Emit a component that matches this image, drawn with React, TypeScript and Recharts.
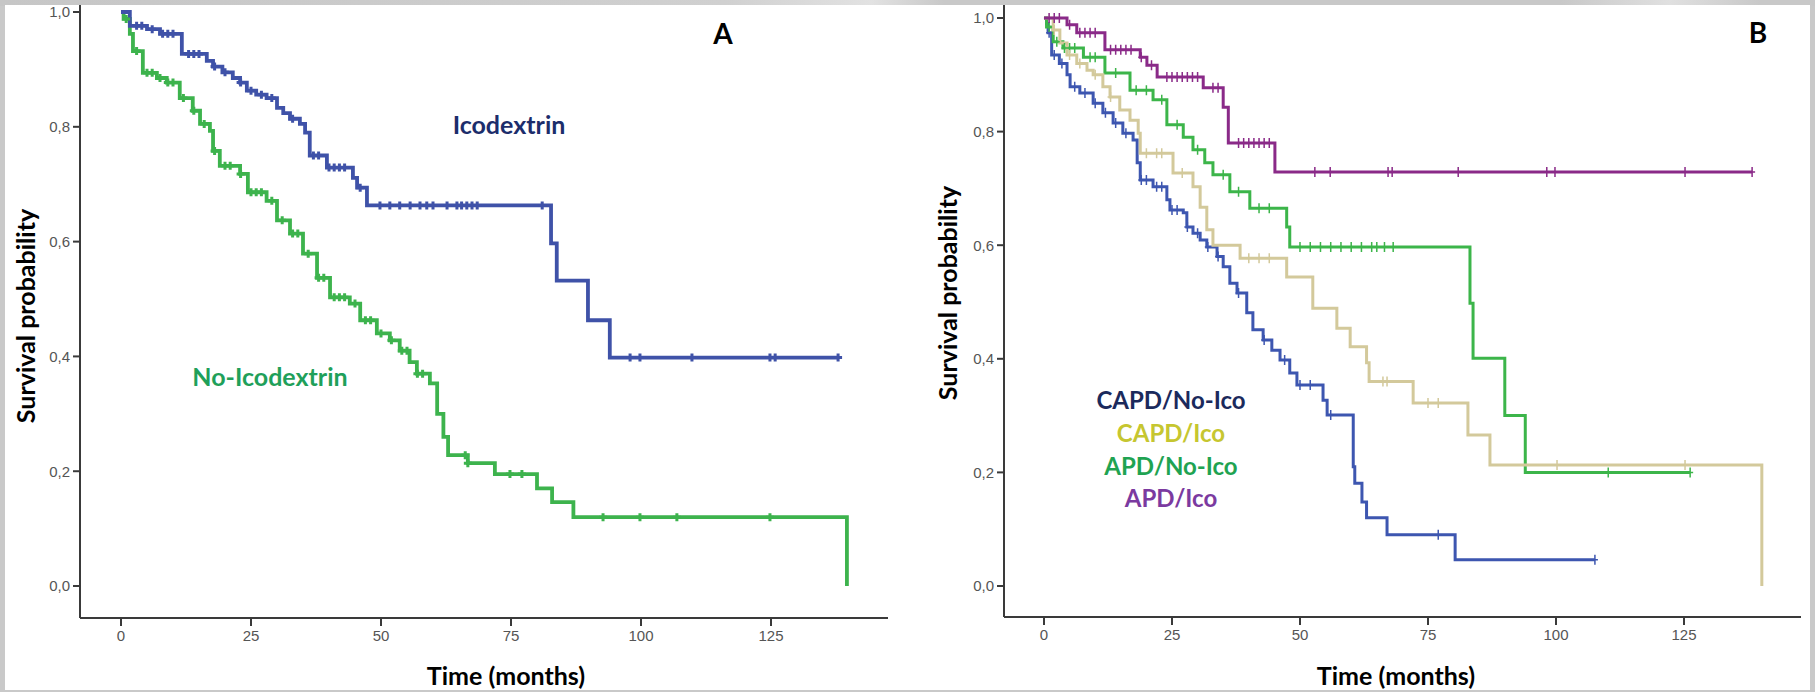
import React from 'react';
import { ComposedChart, Line, XAxis, YAxis } from 'recharts';

// ---------- Panel A ----------
const A_ICO_TIMES = [1.7, 5, 7.5, 11.7, 16.5, 17.7, 19.5, 21.5, 22.9, 24.2, 26, 28, 30, 31.2, 32.5, 34.4, 35.4, 36.3, 39.6, 44.6, 45.4, 47.3, 82.7, 83.8, 89.8, 94];
const A_ICO_SURV = [0.976, 0.97, 0.962, 0.927, 0.915, 0.905, 0.895, 0.885, 0.877, 0.863, 0.856, 0.85, 0.833, 0.824, 0.814, 0.805, 0.79, 0.75, 0.729, 0.711, 0.694, 0.663, 0.597, 0.532, 0.463, 0.398];
const A_ICO_CENS = [3, 4, 6, 8, 9, 10, 13, 14, 15, 18, 20, 23, 25, 27, 29, 33, 37, 38, 40, 41, 42, 43, 46, 49.8, 51.7, 53.6, 55.6, 57.5, 58.8, 60, 62.7, 64.6, 65.5, 66.5, 67.5, 68.5, 81, 97.9, 99.8, 109.8, 124.8, 125.8, 137.9];

const A_NOICO_TIMES = [0.5, 1.7, 2.3, 4.2, 6.9, 8.8, 11.3, 13.8, 15.2, 17.1, 17.7, 19, 22.9, 24.4, 28, 30, 32.5, 35, 37.7, 40.2, 44, 46, 49.2, 51.7, 53.6, 55.5, 56.9, 59.4, 60.8, 62, 62.9, 66.7, 71.9, 80, 82.9, 87, 139.6];
const A_NOICO_SURV = [0.988, 0.962, 0.932, 0.894, 0.885, 0.877, 0.85, 0.828, 0.805, 0.793, 0.758, 0.732, 0.718, 0.686, 0.671, 0.637, 0.614, 0.579, 0.537, 0.503, 0.492, 0.463, 0.44, 0.428, 0.41, 0.39, 0.37, 0.353, 0.3, 0.26, 0.228, 0.214, 0.195, 0.17, 0.146, 0.12, 0];
const A_NOICO_CENS = [1, 3, 5, 6, 7.5, 9, 10, 12, 14, 16, 18, 20, 21, 23, 25, 26, 27, 29, 31, 33, 34, 36, 38, 39, 41, 42, 43, 45, 47, 48, 50, 52, 54, 55, 57, 58, 66.2, 66.7, 74.8, 77.1, 92.7, 99.8, 106.9, 124.8];

// ---------- Panel B ----------
const B_CAPD_NOICO_TIMES = [0.5, 0.8, 1.5, 3, 4.5, 5.1, 7, 9.6, 11.5, 13.5, 15.4, 17.4, 18.2, 18.8, 21.3, 24, 24.6, 27.2, 27.9, 29.1, 30.5, 31.8, 33.8, 35, 36.3, 37.7, 39.6, 40.8, 42.8, 44.5, 46.1, 48, 49.4, 54.5, 55.3, 60.4, 60.7, 62.1, 63, 67, 80.3];
const B_CAPD_NOICO_SURV = [0.99, 0.974, 0.935, 0.92, 0.9, 0.879, 0.868, 0.85, 0.833, 0.815, 0.797, 0.785, 0.745, 0.715, 0.703, 0.68, 0.662, 0.657, 0.632, 0.621, 0.609, 0.597, 0.58, 0.562, 0.533, 0.516, 0.481, 0.451, 0.433, 0.415, 0.398, 0.375, 0.354, 0.327, 0.301, 0.21, 0.181, 0.148, 0.12, 0.09, 0.046];
const B_CAPD_NOICO_CENS = [1, 2, 3.5, 6, 8, 10, 12, 14, 16, 19, 20, 22, 23, 25, 26, 28, 30, 32, 34, 38, 43, 47, 50, 52, 56, 77, 107.6];

const B_CAPD_ICO_TIMES = [1.8, 3.1, 4.5, 6.4, 8.4, 9.6, 11.5, 12.9, 14.8, 16.8, 18.4, 18.8, 25.2, 29.1, 30.5, 31.8, 33, 38.3, 47.4, 52.5, 57.2, 59.8, 63, 63.5, 72.1, 82.8, 87.1, 140.2];
const B_CAPD_ICO_SURV = [0.979, 0.956, 0.935, 0.92, 0.908, 0.9, 0.879, 0.861, 0.838, 0.82, 0.797, 0.762, 0.727, 0.703, 0.667, 0.627, 0.6, 0.577, 0.544, 0.489, 0.454, 0.421, 0.393, 0.36, 0.322, 0.266, 0.213, 0];
const B_CAPD_ICO_CENS = [2, 5, 7, 10, 13, 20, 22, 23, 27, 40, 42, 44, 66.2, 67, 75, 77, 100.2, 125.2];

const B_APD_NOICO_TIMES = [0.5, 1.8, 3.7, 7.7, 11.9, 16.8, 21.3, 24, 27.2, 29.1, 31.4, 33, 36.3, 40.2, 47.4, 48, 83.2, 83.8, 90, 94];
const B_APD_NOICO_SURV = [0.984, 0.958, 0.947, 0.931, 0.903, 0.873, 0.856, 0.812, 0.79, 0.768, 0.745, 0.724, 0.694, 0.665, 0.632, 0.597, 0.498, 0.401, 0.3, 0.2];
const B_APD_NOICO_CENS = [1, 2.5, 4, 5, 6, 9, 10, 14, 18, 20, 23, 26, 30, 35, 38, 42, 44, 50, 52, 54, 56, 58, 60, 62, 64, 65, 66.5, 68.2, 110.2, 126.2];

const B_APD_ICO_TIMES = [4.5, 6.4, 11.9, 18.8, 20.1, 22.1, 31.1, 35, 36, 45.1];
const B_APD_ICO_SURV = [0.988, 0.974, 0.944, 0.931, 0.917, 0.896, 0.877, 0.843, 0.78, 0.729];
const B_APD_ICO_CENS = [1, 2, 3, 5, 7, 8, 9, 10, 13, 14, 15, 16, 17, 19, 21, 24, 25, 26, 27, 28, 29, 30, 33, 34, 38, 39, 40, 41, 42, 43, 44, 52.9, 55.9, 67.2, 68, 80.9, 98.2, 99.8, 125.2, 138.3];

const X_TICKS = [0, 25, 50, 75, 100, 125];
const Y_TICKS = [0, 0.2, 0.4, 0.6, 0.8, 1.0];

type Pt = { t: number; s: number; c: number };

function buildSeries(times: number[], surv: number[], cens: number[]): Pt[] {
  const pts: Pt[] = [{ t: 0, s: 1, c: 0 }];
  times.forEach((t, i) => pts.push({ t, s: surv[i], c: 0 }));
  cens.forEach((t) => {
    let s = 1;
    for (let i = 0; i < times.length; i++) if (times[i] <= t) s = surv[i];
    pts.push({ t, s, c: 1 });
  });
  pts.sort((a, b) => a.t - b.t || a.c - b.c);
  return pts;
}

const fmt = (v: number) => v.toFixed(1).replace('.', ',');

const makeDot = (color: string, h: number, w: number, sw: number) => (props: any) => {
  const { cx, cy, payload, index } = props;
  if (!payload || !payload.c || cx == null || cy == null) return <g key={`n${index}`} />;
  return (
    <path
      key={`d${index}`}
      d={`M${cx - w},${cy}H${cx + w}M${cx},${cy - h}V${cy + h}`}
      stroke={color}
      strokeWidth={sw}
      fill="none"
    />
  );
};

const AXIS = { stroke: '#3a3a3a', strokeWidth: 2 };
const TICK = { fill: '#555', fontSize: 15, fontFamily: 'Liberation Sans, Arial, sans-serif' };
const LABEL_FONT = 'Lato, "Open Sans", sans-serif';

const txt = (
  s: string,
  x: number,
  y: number,
  color: string,
  size: number,
  rotate = false
) => (
  <div
    style={{
      position: 'absolute',
      left: x,
      top: y,
      transform: `translate(-50%, -50%)${rotate ? ' rotate(-90deg)' : ''}`,
      whiteSpace: 'nowrap',
      fontFamily: LABEL_FONT,
      fontWeight: 700,
      fontSize: size,
      color,
      lineHeight: 1,
    }}
  >
    {s}
  </div>
);

const A_BLUE = '#3f52a8';
const A_GREEN = '#3db34d';

const B_BLUE = '#3d56b0';
const B_TAN = '#d3c99b';
const B_GREEN = '#3cb54a';
const B_PURPLE = '#8a2a88';

export default function App() {
  const aIco = buildSeries(A_ICO_TIMES, A_ICO_SURV, A_ICO_CENS);
  const aNo = buildSeries(A_NOICO_TIMES, A_NOICO_SURV, A_NOICO_CENS);
  const b1 = buildSeries(B_CAPD_NOICO_TIMES, B_CAPD_NOICO_SURV, B_CAPD_NOICO_CENS);
  const b2 = buildSeries(B_CAPD_ICO_TIMES, B_CAPD_ICO_SURV, B_CAPD_ICO_CENS);
  const b3 = buildSeries(B_APD_NOICO_TIMES, B_APD_NOICO_SURV, B_APD_NOICO_CENS);
  const b4 = buildSeries(B_APD_ICO_TIMES, B_APD_ICO_SURV, B_APD_ICO_CENS);

  return (
    <div
      style={{
        position: 'absolute',
        left: 0,
        top: 0,
        width: 1815,
        height: 692,
        background: '#c9c9c9',
        overflow: 'hidden',
      }}
    >
      <div
        style={{
          position: 'absolute',
          left: 0,
          top: 0,
          width: 1815,
          height: 6,
          background: 'linear-gradient(90deg, #c6c6c6 0%, #d0d0d0 40%, #e2e2e2 48%, #c8c8c8 52%, #c8c8c8 86%, #e0e0e0 92%, #c8c8c8 97%)',
        }}
      />
      <div style={{ position: 'absolute', left: 5, top: 5, width: 1805, height: 685, background: '#ffffff' }} />

      {/* Panel A */}
      <div style={{ position: 'absolute', left: 0, top: 0 }}>
        <ComposedChart width={900} height={692} margin={{ top: 5, right: 12, left: 20, bottom: 0 }}>
          <XAxis
            type="number"
            dataKey="t"
            domain={[-7.885, 147.5]}
            allowDataOverflow
            ticks={X_TICKS}
            interval={0}
            height={74}
            tickSize={8}
            tickMargin={4}
            axisLine={AXIS}
            tickLine={AXIS}
            tick={TICK}
          />
          <YAxis
            yAxisId="l"
            type="number"
            domain={[-0.0557, 1.0122]}
            allowDataOverflow
            ticks={Y_TICKS}
            interval={0}
            width={60}
            tickSize={7}
            tickMargin={3}
            tickFormatter={fmt}
            axisLine={AXIS}
            tickLine={AXIS}
            tick={TICK}
          />
          <YAxis yAxisId="r" orientation="right" width={0} domain={[0, 1]} tick={false} tickLine={false} axisLine={AXIS} />
          <Line
            yAxisId="l"
            data={aNo}
            dataKey="s"
            type="stepAfter"
            stroke={A_GREEN}
            strokeWidth={3.8}
            dot={makeDot(A_GREEN, 4, 4, 3)}
            activeDot={false}
            isAnimationActive={false}
          />
          <Line
            yAxisId="l"
            data={aIco}
            dataKey="s"
            type="stepAfter"
            stroke={A_BLUE}
            strokeWidth={3.8}
            dot={makeDot(A_BLUE, 4, 4, 3)}
            activeDot={false}
            isAnimationActive={false}
          />
        </ComposedChart>
      </div>

      {/* Panel B */}
      <div style={{ position: 'absolute', left: 900, top: 0 }}>
        <ComposedChart width={915} height={692} margin={{ top: 5, right: 14, left: 44, bottom: 0 }}>
          <XAxis
            type="number"
            dataKey="t"
            domain={[-7.81, 147.85]}
            allowDataOverflow
            ticks={X_TICKS}
            interval={0}
            height={75}
            tickSize={8}
            tickMargin={4}
            axisLine={AXIS}
            tickLine={AXIS}
            tick={TICK}
          />
          <YAxis
            yAxisId="l"
            type="number"
            domain={[-0.0546, 1.0229]}
            allowDataOverflow
            ticks={Y_TICKS}
            interval={0}
            width={60}
            tickSize={7}
            tickMargin={3}
            tickFormatter={fmt}
            axisLine={AXIS}
            tickLine={AXIS}
            tick={TICK}
          />
          <YAxis yAxisId="r" orientation="right" width={0} domain={[0, 1]} tick={false} tickLine={false} axisLine={AXIS} />
          <Line yAxisId="l" data={b1} dataKey="s" type="stepAfter" stroke={B_BLUE} strokeWidth={3} dot={makeDot(B_BLUE, 5, 3, 1.5)} activeDot={false} isAnimationActive={false} />
          <Line yAxisId="l" data={b3} dataKey="s" type="stepAfter" stroke={B_GREEN} strokeWidth={3} dot={makeDot(B_GREEN, 5, 3, 1.5)} activeDot={false} isAnimationActive={false} />
          <Line yAxisId="l" data={b2} dataKey="s" type="stepAfter" stroke={B_TAN} strokeWidth={3} dot={makeDot(B_TAN, 5, 3, 1.5)} activeDot={false} isAnimationActive={false} />
          <Line yAxisId="l" data={b4} dataKey="s" type="stepAfter" stroke={B_PURPLE} strokeWidth={3} dot={makeDot(B_PURPLE, 5, 3, 1.5)} activeDot={false} isAnimationActive={false} />
        </ComposedChart>
      </div>

      {/* Text labels */}
      {txt('A', 723, 33, '#000', 28)}
      {txt('B', 1758, 32, '#000', 28)}
      {txt('Icodextrin', 509, 124, '#1c2d6b', 25)}
      {txt('No-Icodextrin', 270, 376, '#1fa05a', 25)}
      {txt('Survival probability', 25, 316, '#000', 25, true)}
      {txt('Survival probability', 947, 293, '#000', 25, true)}
      {txt('Time (months)', 506, 675, '#000', 25)}
      {txt('Time (months)', 1396, 675, '#000', 25)}
      {txt('CAPD/No-Ico', 1171, 400, '#1b2a5c', 24)}
      {txt('CAPD/Ico', 1171, 433, '#c6c630', 24)}
      {txt('APD/No-Ico', 1171, 466, '#1fa352', 24)}
      {txt('APD/Ico', 1171, 498, '#7b3aa0', 24)}
    </div>
  );
}
